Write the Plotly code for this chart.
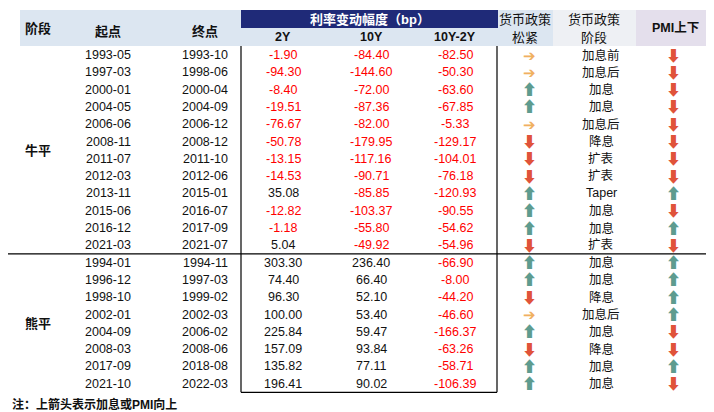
import plotly.graph_objects as go

starts = ["1993-05", "1997-03", "2000-01", "2004-05", "2006-06", "2008-11", "2011-07", "2012-03",
          "2013-11", "2015-06", "2016-12", "2021-03",
          "1994-01", "1996-12", "1998-10", "2002-01", "2004-09", "2008-03", "2017-09", "2021-10"]
ends = ["1993-10", "1998-06", "2000-04", "2004-09", "2006-12", "2008-12", "2011-10", "2012-06",
        "2015-01", "2016-07", "2017-09", "2021-07",
        "1994-11", "1997-03", "1999-02", "2002-03", "2006-02", "2008-06", "2018-08", "2022-03"]
chg_2y = [-1.90, -94.30, -8.40, -19.51, -76.67, -50.78, -13.15, -14.53, 35.08, -12.82, -1.18, 5.04,
          303.30, 74.40, 96.30, 100.00, 225.84, 157.09, 135.82, 196.41]
chg_10y = [-84.40, -144.60, -72.00, -87.36, -82.00, -179.95, -117.16, -90.71, -85.85, -103.37, -55.80, -49.92,
           236.40, 66.40, 52.10, 53.40, 59.47, 93.84, 77.11, 90.02]
chg_spread = [-82.50, -50.30, -63.60, -67.85, -5.33, -129.17, -104.01, -76.18, -120.93, -90.55, -54.62, -54.96,
              -66.90, -8.00, -44.20, -46.60, -166.37, -63.26, -58.71, -106.39]
# u = up, d = down, r = flat (right arrow)
policy = ["r", "r", "u", "u", "r", "d", "d", "d", "u", "u", "u", "d",
          "u", "u", "d", "r", "u", "d", "u", "u"]
stage = ["加息前", "加息后", "加息", "加息", "加息后", "降息", "扩表", "扩表", "Taper", "加息", "加息", "扩表",
         "加息", "加息", "降息", "加息后", "加息", "降息", "加息", "加息"]
pmi = ["d", "d", "d", "d", "d", "d", "d", "d", "u", "d", "u", "d",
       "u", "u", "u", "u", "d", "d", "u", "d"]
groups = [("牛平", 12), ("熊平", 8)]

FONT = "Liberation Sans, Noto Sans CJK SC"
ARROW = {"u": ("⬆", "#5E9C8F"), "d": ("⬇", "#E0533A"), "r": ("➔", "#F0B060")}

fig = go.Figure()
shapes, ann = [], []

def txt(x, y, s, color="#111", size=12.5, bold=False):
    ann.append(dict(x=x, y=y, text=f"<b>{s}</b>" if bold else s, showarrow=False,
                    font=dict(family=FONT, size=size, color=color), xanchor="center", yanchor="middle"))

def rect(x0, y0, x1, y1, color):
    shapes.append(dict(type="rect", x0=x0, y0=y0, x1=x1, y1=y1, fillcolor=color, line_width=0, layer="below"))

def line(x0, y0, x1, y1, w=1.2):
    shapes.append(dict(type="line", x0=x0, y0=y0, x1=x1, y1=y1, line=dict(color="black", width=w)))

# header
rect(12, 2, 233, 38, "#DCE6F1")
rect(233, 2, 490, 20, "#1F2A78")
rect(233, 20, 490, 38, "#DCE6F1")
rect(490, 2, 545, 38, "#DCE6F1")
rect(545, 2, 628, 38, "#EEF0F4")
rect(628, 2, 705, 38, "#E4DFEC")
txt(30, 20, "阶段", bold=True, size=13)
txt(100, 23, "起点", bold=True, size=13)
txt(197, 23, "终点", bold=True, size=13)
txt(362, 11, "利率变动幅度（bp）", color="white", bold=True, size=13)
for x, s in [(275, "2Y"), (363, "10Y"), (447, "10Y-2Y")]:
    txt(x, 29, s, bold=True)
txt(517, 11, "货币政策", size=13); txt(517, 29, "松紧", size=13)
txt(586, 11, "货币政策", size=13); txt(586, 29, "阶段", size=13)
txt(667, 20, "PMI上下", bold=True)

y0, dy = 47, 17.3
for i in range(len(starts)):
    y = y0 + i * dy
    txt(100, y, starts[i]); txt(197, y, ends[i])
    for x, v in [(275, chg_2y[i]), (363, chg_10y[i]), (447, chg_spread[i])]:
        txt(x, y, f"{v:.2f}", color="#FF0000" if v < 0 else "#111")
    a, c = ARROW[policy[i]]
    txt(521, y, a, color=c, size=15)
    txt(593, y, stage[i])
    a, c = ARROW[pmi[i]]
    txt(665, y, a, color=c, size=15)

row = 0
for name, n in groups:
    txt(30, y0 + (row + (n - 1) / 2) * dy, name, bold=True, size=13)
    row += n

ysplit = y0 + 11.5 * dy
ybot = y0 + 19.5 * dy
line(0, ysplit, 704, ysplit)
line(233, 38, 233, ybot)
line(489, 38, 489, ybot)
line(233, ybot, 489, ybot)
ann.append(dict(x=2, y=396, text="<b>注：上箭头表示加息或PMI向上</b>", showarrow=False, xanchor="left",
                yanchor="middle", font=dict(family=FONT, size=12, color="#111")))

fig.update_layout(width=714, height=412, margin=dict(l=0, r=0, t=0, b=0),
                  plot_bgcolor="white", paper_bgcolor="white", shapes=shapes, annotations=ann,
                  xaxis=dict(range=[0, 714], visible=False, fixedrange=True),
                  yaxis=dict(range=[412, 0], visible=False, fixedrange=True),
                  showlegend=False)
fig.write_html("out.html")
